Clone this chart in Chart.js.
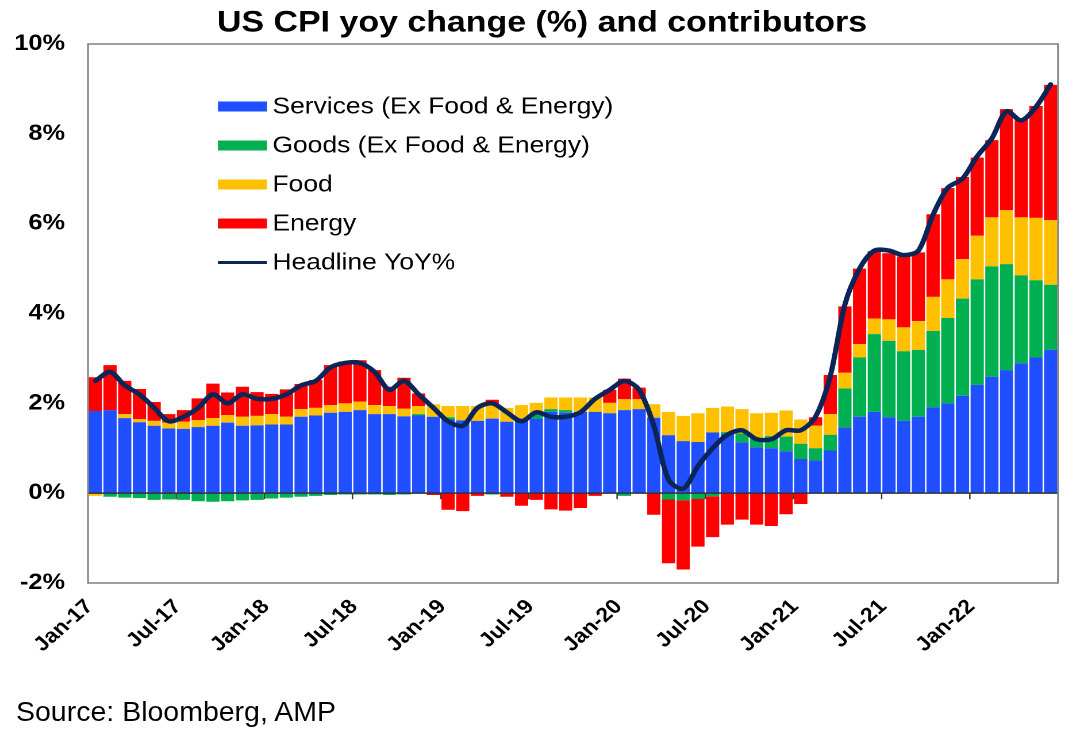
<!DOCTYPE html>
<html><head><meta charset="utf-8">
<script src="https://cdn.jsdelivr.net/npm/chart.js@4/dist/chart.umd.min.js"></script>
<style>
html,body{margin:0;padding:0;background:#fff;width:1084px;height:743px;overflow:hidden;}
#wrap{position:absolute;left:0;top:0;width:943px;height:743px;transform:scaleX(1.1495);transform-origin:0 0;}
#src{position:absolute;left:16px;top:697px;font:28.5px "Liberation Sans",Arial,sans-serif;line-height:28px;color:#000;white-space:nowrap;}
</style></head><body>
<div id="wrap"><canvas id="c" width="943" height="743"></canvas></div>
<div id="src">Source: Bloomberg, AMP</div>
<script>
const months = [
 'Jan-17','Feb-17','Mar-17','Apr-17','May-17','Jun-17','Jul-17','Aug-17','Sep-17','Oct-17','Nov-17','Dec-17',
 'Jan-18','Feb-18','Mar-18','Apr-18','May-18','Jun-18','Jul-18','Aug-18','Sep-18','Oct-18','Nov-18','Dec-18',
 'Jan-19','Feb-19','Mar-19','Apr-19','May-19','Jun-19','Jul-19','Aug-19','Sep-19','Oct-19','Nov-19','Dec-19',
 'Jan-20','Feb-20','Mar-20','Apr-20','May-20','Jun-20','Jul-20','Aug-20','Sep-20','Oct-20','Nov-20','Dec-20',
 'Jan-21','Feb-21','Mar-21','Apr-21','May-21','Jun-21','Jul-21','Aug-21','Sep-21','Oct-21','Nov-21','Dec-21',
 'Jan-22','Feb-22','Mar-22','Apr-22','May-22','Jun-22'];
const tickLabels = ['Jan-17','Jul-17','Jan-18','Jul-18','Jan-19','Jul-19','Jan-20','Jul-20','Jan-21','Jul-21','Jan-22'];

const services = [1.83,1.85,1.67,1.58,1.50,1.44,1.43,1.47,1.50,1.57,1.50,1.51,
 1.53,1.53,1.70,1.73,1.79,1.81,1.85,1.76,1.76,1.71,1.73,1.70,
 1.64,1.62,1.61,1.66,1.59,1.66,1.66,1.81,1.79,1.81,1.81,1.78,
 1.85,1.87,1.68,1.29,1.16,1.14,1.35,1.32,1.13,1.02,1.00,0.93,
 0.76,0.73,0.95,1.46,1.70,1.81,1.69,1.61,1.70,1.91,2.00,2.17,
 2.41,2.59,2.74,2.89,3.02,3.19];
const goods = [0,-0.08,-0.10,-0.11,-0.15,-0.14,-0.15,-0.18,-0.19,-0.18,-0.16,-0.15,
 -0.12,-0.10,-0.08,-0.06,-0.04,-0.03,-0.03,-0.03,-0.04,-0.03,0.03,0,
 0.05,0,0,-0.03,0,0,0.10,0.06,0.06,0,0,0,
 -0.06,0,0,-0.14,-0.16,-0.13,-0.07,0.04,0.20,0.20,0.27,0.33,
 0.34,0.27,0.35,0.87,1.32,1.73,1.70,1.55,1.49,1.70,1.90,2.16,
 2.35,2.46,2.36,1.96,1.72,1.45];
const food = [-0.06,0,0.09,0.07,0.11,0.13,0.16,0.16,0.17,0.17,0.20,0.21,
 0.23,0.17,0.17,0.17,0.17,0.19,0.19,0.20,0.18,0.17,0.18,0.28,
 0.25,0.32,0.33,0.32,0.31,0.30,0.25,0.26,0.28,0.32,0.32,0.23,
 0.24,0.22,0.30,0.52,0.56,0.64,0.55,0.57,0.54,0.56,0.52,0.58,
 0.54,0.50,0.46,0.35,0.30,0.35,0.48,0.53,0.64,0.76,0.86,0.88,
 0.97,1.09,1.20,1.29,1.39,1.44];
const energy = [0.75,1.00,0.74,0.67,0.42,0.19,0.26,0.48,0.77,0.50,0.67,0.53,
 0.45,0.61,0.56,0.62,0.89,0.93,0.92,0.78,0.43,0.69,0.28,-0.04,
 -0.37,-0.40,-0.06,0.10,-0.08,-0.28,-0.15,-0.36,-0.39,-0.33,-0.06,0.29,
 0.46,0.26,-0.48,-1.42,-1.54,-1.06,-0.91,-0.70,-0.59,-0.70,-0.73,-0.47,
 -0.24,0.19,0.87,1.48,1.68,1.50,1.47,1.58,1.53,1.84,2.03,1.83,
 1.74,1.72,2.25,2.19,2.49,3.01];
const headline = [2.5,2.7,2.4,2.2,1.9,1.6,1.7,1.9,2.2,2.0,2.2,2.1,
 2.1,2.2,2.4,2.5,2.8,2.9,2.9,2.7,2.3,2.5,2.2,1.9,
 1.6,1.5,1.9,2.0,1.8,1.6,1.8,1.7,1.7,1.8,2.1,2.3,
 2.5,2.3,1.5,0.3,0.1,0.6,1.0,1.3,1.4,1.2,1.2,1.4,
 1.4,1.7,2.6,4.2,5.0,5.4,5.4,5.3,5.4,6.2,6.8,7.0,
 7.5,7.9,8.5,8.3,8.6,9.1];

const F = '"Liberation Sans", Arial, Helvetica, sans-serif';
const COL = {services:'#1F4FFF', goods:'#00B050', food:'#FFC000', energy:'#FF0000', headline:'#0B2559'};

const framePlugin = {
  id: 'frame',
  beforeDatasetDraw(chart, args) {
    if (args.meta.type !== 'line') return;
    const ctx = chart.ctx, a = chart.chartArea, xs = chart.scales.x, ys = chart.scales.y;
    const y0 = ys.getPixelForValue(0);
    ctx.save();
    ctx.strokeStyle = '#333'; ctx.lineWidth = 1.5;
    ctx.beginPath(); ctx.moveTo(a.left, y0); ctx.lineTo(a.right, y0); ctx.stroke();
    ctx.lineWidth = 1.2;
    months.forEach((m, i) => {
      if (i === 0 || !tickLabels.includes(m)) return;
      const bx = (xs.getPixelForValue(i - 1) + xs.getPixelForValue(i)) / 2;
      ctx.beginPath(); ctx.moveTo(bx, y0); ctx.lineTo(bx, y0 + 6); ctx.stroke();
    });
    ctx.restore();
  },
  afterDraw(chart) {
    const ctx = chart.ctx, a = chart.chartArea;
    ctx.save();
    ctx.strokeStyle = '#7f7f7f'; ctx.lineWidth = 1.5;
    ctx.strokeRect(a.left, a.top, a.right - a.left, a.bottom - a.top);
    ctx.font = '23px ' + F; ctx.fillStyle = '#000'; ctx.textBaseline = 'alphabetic'; ctx.textAlign = 'left';
    chart.data.datasets.forEach((ds, i) => {
      const cy = a.top + 61.5 + i * 39;
      if (ds.type === 'line') {
        ctx.strokeStyle = ds.borderColor; ctx.lineWidth = 3;
        ctx.beginPath(); ctx.moveTo(189.6, cy + 1); ctx.lineTo(232.2, cy + 1); ctx.stroke();
      } else {
        ctx.fillStyle = ds.backgroundColor;
        ctx.fillRect(189.6, cy - 4, 42.6, 10);
      }
      ctx.fillStyle = '#000';
      ctx.fillText(ds.label, 237, cy + 8);
    });
    ctx.restore();
  }
};

const barCommon = {stack: 'cpi', order: 1, barPercentage: 0.9, categoryPercentage: 1.0, borderWidth: 0};
new Chart(document.getElementById('c'), {
  type: 'bar',
  data: {
    labels: months,
    datasets: [
      Object.assign({label: 'Services (Ex Food & Energy)', data: services, backgroundColor: COL.services}, barCommon),
      Object.assign({label: 'Goods (Ex Food & Energy)', data: goods, backgroundColor: COL.goods}, barCommon),
      Object.assign({label: 'Food', data: food, backgroundColor: COL.food}, barCommon),
      Object.assign({label: 'Energy', data: energy, backgroundColor: COL.energy}, barCommon),
      {type: 'line', label: 'Headline YoY%', data: headline, borderColor: COL.headline, backgroundColor: COL.headline,
       borderWidth: 4.5, pointRadius: 0, tension: 0.3, stack: 'line', order: 0, fill: false,
       borderCapStyle: 'round', borderJoinStyle: 'round'}
    ]
  },
  options: {
    responsive: false, animation: false, devicePixelRatio: 2,
    layout: {padding: {left: 0, right: 0, top: 0, bottom: 0}},
    plugins: {
      legend: {display: false}, tooltip: {enabled: false},
      title: {display: true, text: 'US CPI yoy change (%) and contributors', color: '#000',
              font: {family: F, size: 29.5, weight: 'bold'}, padding: {top: 5.6, bottom: 3}}
    },
    scales: {
      x: {stacked: true, grid: {display: false, drawTicks: false}, border: {display: false},
          ticks: {autoSkip: false, maxRotation: 45, minRotation: 45, padding: 12, labelOffset: -5, color: '#000',
                  font: {family: F, size: 20, weight: 'bold'},
                  callback: (v, i) => tickLabels.includes(months[i]) ? months[i] : null},
          afterFit: (s) => { s.height = 160; }},
      y: {stacked: true, min: -2, max: 10, grid: {display: false, drawTicks: false}, border: {display: false},
          ticks: {stepSize: 2, padding: 20, color: '#000', font: {family: F, size: 22, weight: 'bold'},
                  callback: (v) => v + '%'},
          afterFit: (s) => { s.width = 76.55; }},
      yR: {position: 'right', min: -2, max: 10, grid: {display: false, drawTicks: false}, border: {display: false},
           ticks: {display: false}, afterFit: (s) => { s.width = 22.6; }}
    }
  },
  plugins: [framePlugin]
});
</script>
</body></html>
